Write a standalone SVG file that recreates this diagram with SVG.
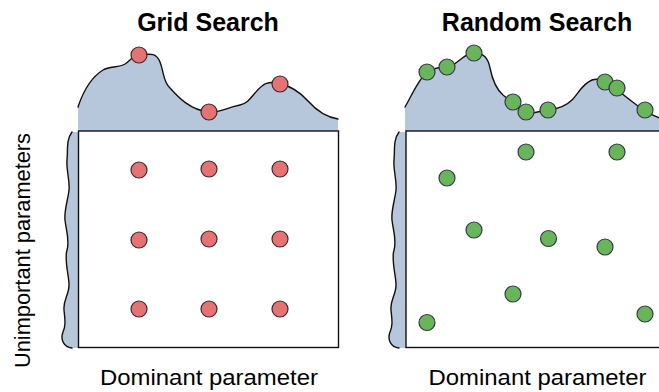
<svg xmlns="http://www.w3.org/2000/svg" width="659" height="392" viewBox="0 0 659 392">
<style>
.band{fill:#b7c7db;stroke:none}
.edge{fill:none;stroke:#111;stroke-width:1.4;stroke-linejoin:round;stroke-linecap:round}
.box{fill:#fff;stroke:#111;stroke-width:1.4}
.red{fill:#e57373;stroke:#3b2b30;stroke-width:1.2}
.green{fill:#69b65a;stroke:#3a3450;stroke-width:1.2}
.title{font-family:"Liberation Sans",Arial,sans-serif;font-weight:bold;font-size:25px;fill:#000;text-anchor:middle}
.axis{font-family:"Liberation Sans",Arial,sans-serif;font-size:22px;fill:#000;text-anchor:middle}
</style>
<defs>
<path id="wave" d="M72,132 C66,140 68,150 67,160 C66,170 70,180 69,190 C68,200 64,210 65,220 C66,230 70,240 67,250 C64,260 69,275 69,285 C69,295 63,300 64,310 C65,320 66,325 63,332 C60,340 64,347 72,348"/>
</defs>

<g id="grid-panel">
  <text id="grid-title" class="title" x="208" y="31">Grid Search</text>
  <path class="band" d="M78,107 C82,95 90,78 103,70 C110,66 118,68 125,64 C131,60 133,55 139,55 C150,54 156,52 160,62 C164,72 163,82 170,88 C178,97 190,110 209,112 C220,113 225,108 240,105 C250,103 253,93 262,86 C268,81 274,82 280,84 C290,86 300,92 308,101 C316,110 325,117 338,119 L338,131 L78,131 Z"/>
  <path class="edge" d="M78,107 C82,95 90,78 103,70 C110,66 118,68 125,64 C131,60 133,55 139,55 C150,54 156,52 160,62 C164,72 163,82 170,88 C178,97 190,110 209,112 C220,113 225,108 240,105 C250,103 253,93 262,86 C268,81 274,82 280,84 C290,86 300,92 308,101 C316,110 325,117 338,119"/>
  <path class="band" d="M72,132 C66,140 68,150 67,160 C66,170 70,180 69,190 C68,200 64,210 65,220 C66,230 70,240 67,250 C64,260 69,275 69,285 C69,295 63,300 64,310 C65,320 66,325 63,332 C60,340 64,347 72,348 L79,348 L79,132 Z"/>
  <use href="#wave" class="edge"/>
  <rect class="box" x="78.5" y="131" width="260" height="216.5"/>
  <g id="grid-top-dots">
    <circle class="red" cx="139" cy="55" r="8"/>
    <circle class="red" cx="209" cy="112" r="8"/>
    <circle class="red" cx="280" cy="84" r="8"/>
  </g>
  <g id="grid-dots">
    <circle class="red" cx="139" cy="170" r="8"/>
    <circle class="red" cx="209" cy="169" r="8"/>
    <circle class="red" cx="280" cy="169" r="8"/>
    <circle class="red" cx="139" cy="240" r="8"/>
    <circle class="red" cx="209" cy="239" r="8"/>
    <circle class="red" cx="280" cy="239" r="8"/>
    <circle class="red" cx="139" cy="309" r="8"/>
    <circle class="red" cx="209" cy="309" r="8"/>
    <circle class="red" cx="280" cy="309" r="8"/>
  </g>
  <text id="grid-xlabel" class="axis" x="209" y="385" textLength="218" lengthAdjust="spacingAndGlyphs">Dominant parameter</text>
  <text id="ylabel" class="axis" transform="translate(30,250.5) rotate(-90)" x="0" y="0" textLength="235" lengthAdjust="spacingAndGlyphs">Unimportant parameters</text>
</g>

<g id="random-panel">
  <text id="random-title" class="title" x="537" y="31">Random Search</text>
  <path class="band" d="M405,107 C412,95 418,80 427,72 C434,67 440,68 447,67 C457,66 463,53 474,53 C484,53 488,58 490,68 C492,78 495,88 503,95 C508,99 510,100 513,103 C518,108 522,112 530,113 C538,113 543,110 548,110 C558,109 566,106 572,100 C578,94 582,84 592,80 C598,78 602,80 605,82 C612,85 620,92 630,100 C640,108 650,115 660,118 L660,131 L405,131 Z"/>
  <path class="edge" d="M405,107 C412,95 418,80 427,72 C434,67 440,68 447,67 C457,66 463,53 474,53 C484,53 488,58 490,68 C492,78 495,88 503,95 C508,99 510,100 513,103 C518,108 522,112 530,113 C538,113 543,110 548,110 C558,109 566,106 572,100 C578,94 582,84 592,80 C598,78 602,80 605,82 C612,85 620,92 630,100 C640,108 650,115 660,118"/>
  <g transform="translate(327,0)">
    <path class="band" d="M72,132 C66,140 68,150 67,160 C66,170 70,180 69,190 C68,200 64,210 65,220 C66,230 70,240 67,250 C64,260 69,275 69,285 C69,295 63,300 64,310 C65,320 66,325 63,332 C60,340 64,347 72,348 L80,348 L80,132 Z"/>
    <use href="#wave" class="edge"/>
  </g>
  <rect class="box" x="406" y="131" width="262" height="216.5"/>
  <g id="random-top-dots">
    <circle class="green" cx="427" cy="72" r="8"/>
    <circle class="green" cx="447" cy="67" r="8"/>
    <circle class="green" cx="474" cy="53" r="8"/>
    <circle class="green" cx="513" cy="102" r="8"/>
    <circle class="green" cx="526" cy="112" r="8"/>
    <circle class="green" cx="548" cy="110" r="8"/>
    <circle class="green" cx="605" cy="82" r="8"/>
    <circle class="green" cx="617" cy="88" r="8"/>
    <circle class="green" cx="645" cy="110" r="8"/>
  </g>
  <g id="random-dots">
    <circle class="green" cx="526" cy="152" r="8"/>
    <circle class="green" cx="617" cy="152" r="8"/>
    <circle class="green" cx="447" cy="178" r="8"/>
    <circle class="green" cx="474" cy="230" r="8"/>
    <circle class="green" cx="548.5" cy="238.5" r="8"/>
    <circle class="green" cx="605" cy="247" r="8"/>
    <circle class="green" cx="513" cy="294" r="8"/>
    <circle class="green" cx="427" cy="322.5" r="8"/>
    <circle class="green" cx="645" cy="314" r="8"/>
  </g>
  <text id="random-xlabel" class="axis" x="537.5" y="385" textLength="218" lengthAdjust="spacingAndGlyphs">Dominant parameter</text>
</g>
</svg>
